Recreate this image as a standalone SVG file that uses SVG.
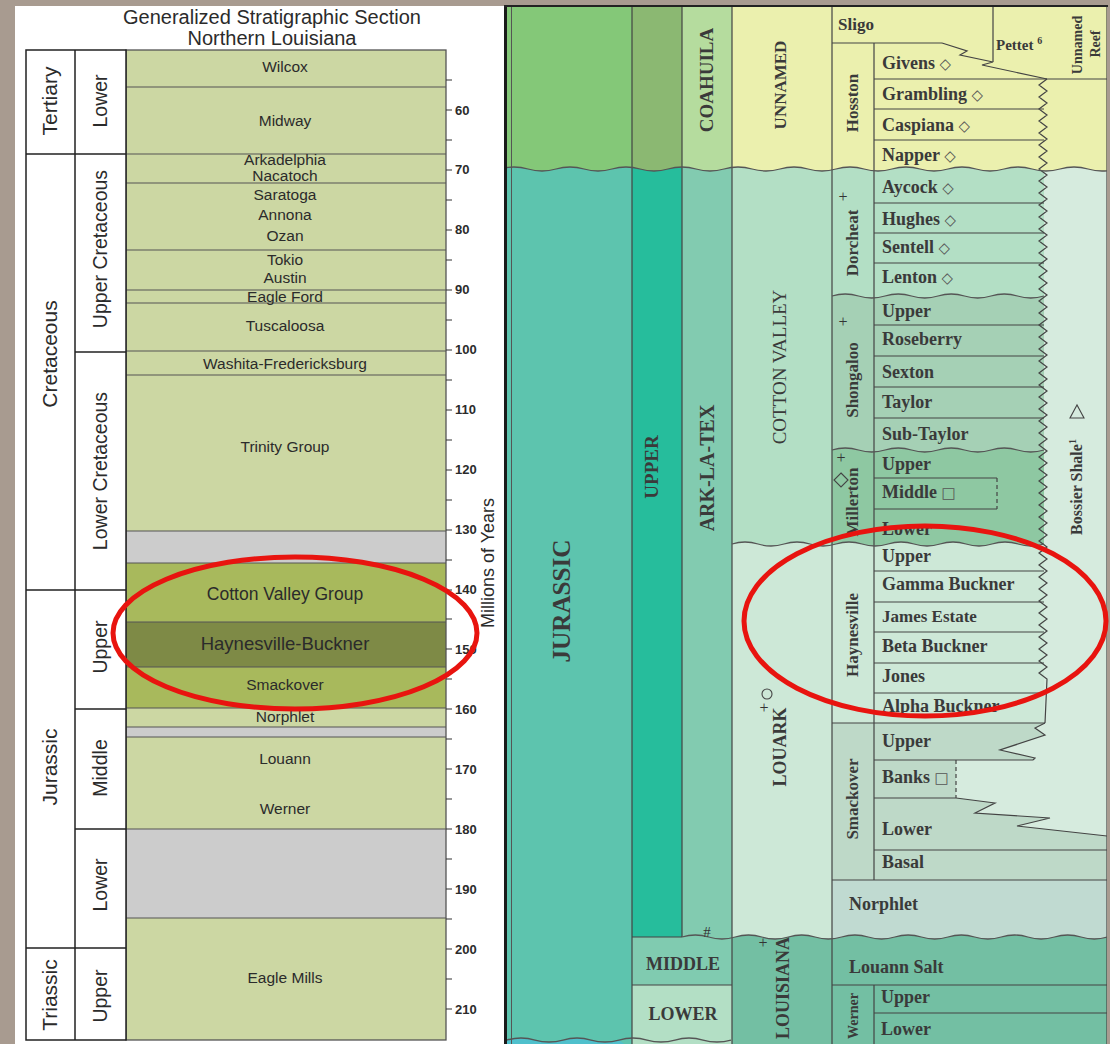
<svg xmlns="http://www.w3.org/2000/svg" width="1110" height="1044" viewBox="0 0 1110 1044">
<defs>
<style>
.ln{stroke:#444;stroke-width:1.2;fill:none}
.lk{stroke:#222;stroke-width:1.5;fill:none}
.wv{stroke:#555;stroke-width:1.3;fill:none}
.ds{stroke:#444;stroke-width:1.2;fill:none;stroke-dasharray:4 3}
.ss{font-family:"Liberation Sans",Arial,sans-serif;fill:#2b2b2b}
.fm{font-size:15.5px;text-anchor:middle}
.tk{font-size:13px;font-weight:bold}
.sf{font-family:"Liberation Serif","Times New Roman",serif;font-weight:bold;fill:#3a3a3a}
.mb{font-size:18px}
.rt{text-anchor:middle}
.sy{font-family:"DejaVu Sans",sans-serif;font-weight:normal;font-size:15px;fill:#555}
.red{fill:none;stroke:#e8140f;stroke-width:5}
</style>
<clipPath id="rp"><rect x="507" y="7" width="600" height="1037"/></clipPath>
<clipPath id="b169"><path d="M500,169q14,-4 28,0t28,0t28,0t28,0t28,0t28,0t28,0t28,0t28,0t28,0t28,0t28,0t28,0t28,0t28,0t28,0t28,0t28,0t28,0t28,0t28,0t28,0t28,0L1150,1050L500,1050Z"/></clipPath>
<clipPath id="b937"><path d="M682,937q13.3,-4 26.6,0t26.6,0t26.6,0t26.6,0t26.6,0t26.6,0t26.6,0t26.6,0t26.6,0t26.6,0t26.6,0t26.6,0t26.6,0t26.6,0t26.6,0t26.6,0L1112,1050L682,1050Z"/></clipPath>
</defs>

<rect x="0" y="0" width="1110" height="1044" fill="#a89b90"/>

<g id="left-panel">
<rect x="15" y="6" width="490" height="1038" fill="#ffffff"/>
<text class="ss" font-size="20" text-anchor="middle" x="272" y="24">Generalized Stratigraphic Section</text>
<text class="ss" font-size="20" text-anchor="middle" x="272" y="45">Northern Louisiana</text>

<g id="formations">
<rect x="126" y="50" width="320" height="990" fill="#ccd7a3"/>
<rect x="126" y="531" width="320" height="32" fill="#cccccc"/>
<rect x="126" y="563" width="320" height="59" fill="#a8b95c"/>
<rect x="126" y="622" width="320" height="45" fill="#7e8a46"/>
<rect x="126" y="667" width="320" height="41" fill="#a8b95c"/>
<rect x="126" y="727" width="320" height="10" fill="#cccccc"/>
<rect x="126" y="829" width="320" height="89" fill="#cccccc"/>
<path stroke="#555" stroke-width="1.2" fill="none" d="M126,87H446M126,154H446M126,183H446M126,250H446M126,290H446M126,303H446M126,351H446M126,375H446M126,531H446M126,563H446M126,622H446M126,667H446M126,708H446M126,727H446M126,737H446M126,829H446M126,918H446"/>
<rect x="126" y="50" width="320" height="990" fill="none" stroke="#555" stroke-width="1.3"/>
<text class="ss fm" x="285" y="72">Wilcox</text>
<text class="ss fm" x="285" y="126">Midway</text>
<text class="ss fm" x="285" y="165">Arkadelphia</text>
<text class="ss fm" x="285" y="181">Nacatoch</text>
<text class="ss fm" x="285" y="200">Saratoga</text>
<text class="ss fm" x="285" y="220">Annona</text>
<text class="ss fm" x="285" y="241">Ozan</text>
<text class="ss fm" x="285" y="265">Tokio</text>
<text class="ss fm" x="285" y="283">Austin</text>
<text class="ss fm" x="285" y="302">Eagle Ford</text>
<text class="ss fm" x="285" y="331">Tuscaloosa</text>
<text class="ss fm" x="285" y="369">Washita-Fredericksburg</text>
<text class="ss fm" x="285" y="452">Trinity Group</text>
<text class="ss" font-size="17.5" text-anchor="middle" x="285" y="600">Cotton Valley Group</text>
<text class="ss" font-size="18.5" text-anchor="middle" x="285" y="650">Haynesville-Buckner</text>
<text class="ss fm" x="285" y="690">Smackover</text>
<text class="ss fm" x="285" y="722">Norphlet</text>
<text class="ss fm" x="285" y="764">Louann</text>
<text class="ss fm" x="285" y="814">Werner</text>
<text class="ss fm" x="285" y="983">Eagle Mills</text>
</g>

<g id="eras">
<rect x="26" y="50" width="100" height="990" fill="#ffffff"/>
<path class="lk" d="M26,50H126V1040H26ZM75,50V1040M26,154H126M26,590H126M26,948H126M75,352H126M75,709H126M75,829H126"/>
<g class="ss" font-size="21" text-anchor="middle">
<text transform="translate(50,101) rotate(-90)" dy="0.35em">Tertiary</text>
<text transform="translate(50,354) rotate(-90)" dy="0.35em">Cretaceous</text>
<text transform="translate(50,767) rotate(-90)" dy="0.35em">Jurassic</text>
<text transform="translate(50,995) rotate(-90)" dy="0.35em">Triassic</text>
</g>
<g class="ss" font-size="19.5" text-anchor="middle">
<text transform="translate(100,101) rotate(-90)" dy="0.35em">Lower</text>
<text transform="translate(100,249) rotate(-90)" dy="0.35em">Upper Cretaceous</text>
<text transform="translate(100,471) rotate(-90)" dy="0.35em">Lower Cretaceous</text>
<text transform="translate(100,647) rotate(-90)" dy="0.35em">Upper</text>
<text transform="translate(100,768) rotate(-90)" dy="0.35em">Middle</text>
<text transform="translate(100,885) rotate(-90)" dy="0.35em">Lower</text>
<text transform="translate(100,996) rotate(-90)" dy="0.35em">Upper</text>
</g>
</g>

<g id="age-scale">
<path stroke="#333" stroke-width="1.2" d="M446,80h6M446,110h6M446,140h6M446,170h6M446,200h6M446,230h6M446,260h6M446,290h6M446,320h6M446,350h6M446,380h6M446,410h6M446,440h6M446,470h6M446,500h6M446,530h6M446,560h6M446,590h6M446,619h6M446,649h6M446,679h6M446,709h6M446,739h6M446,769h6M446,799h6M446,829h6M446,859h6M446,889h6M446,919h6M446,949h6M446,979h6M446,1009h6"/>
<g class="ss tk">
<text x="455" y="114.5">60</text>
<text x="455" y="174.4">70</text>
<text x="455" y="234.4">80</text>
<text x="455" y="294.3">90</text>
<text x="455" y="354.2">100</text>
<text x="455" y="414.2">110</text>
<text x="455" y="474.1">120</text>
<text x="455" y="534">130</text>
<text x="455" y="594">140</text>
<text x="455" y="653.9">150</text>
<text x="455" y="713.8">160</text>
<text x="455" y="773.8">170</text>
<text x="455" y="833.7">180</text>
<text x="455" y="893.6">190</text>
<text x="455" y="953.6">200</text>
<text x="455" y="1013.5">210</text>
</g>
<text class="ss" font-size="18" text-anchor="middle" transform="translate(488,563) rotate(-90)" dy="0.35em">Millions of Years</text>
</g>
</g>

<g id="right-panel">
<g clip-path="url(#rp)">
<rect x="507" y="7" width="125" height="175" fill="#84c878"/>
<rect x="632" y="7" width="50" height="175" fill="#8bb872"/>
<rect x="682" y="7" width="50" height="175" fill="#b5dc9e"/>
<rect x="732" y="7" width="375" height="175" fill="#ebf0ae"/>
<g clip-path="url(#b169)">
<rect x="507" y="160" width="125" height="884" fill="#5dc4ae"/>
<rect x="632" y="160" width="50" height="777" fill="#26bd9c"/>
<rect x="682" y="160" width="50" height="790" fill="#82cbb0"/>
<rect x="940" y="160" width="170" height="690" fill="#d6ebde"/>
<rect x="732" y="160" width="312" height="400" fill="#b3dfc5"/>
</g>
<path fill="#a5d0b5" d="M832,296q13.25,-4 26.5,0t26.5,0t26.5,0t26.5,0t26.5,0t26.5,0t26.5,0t26.5,0L1044,460L832,460Z"/>
<path fill="#8ec8a2" d="M832,450q13.25,-4 26.5,0t26.5,0t26.5,0t26.5,0t26.5,0t26.5,0t26.5,0t26.5,0L1044,560L832,560Z"/>
<path fill="#cde8d7" d="M732,544q13,-4 26,0t26,0t26,0t26,0t26,0t26,0t26,0t26,0t26,0t26,0t26,0t26,0L1044,723L832,723L832,945L732,945Z"/>
<path fill="#bed9c8" d="M832,723L1045,723L1035,728L1045,735L1000,750L1035,758L1033,760L956,760L956,798L995,803L975,813L1050,818L1017,826L1107,836L1107,880L832,880Z"/>
<rect x="832" y="880" width="275" height="65" fill="#c0dad1"/>
<g clip-path="url(#b937)">
<rect x="682" y="925" width="50" height="60" fill="#80cbb0"/>
<rect x="732" y="925" width="375" height="119" fill="#73bfa3"/>
</g>
<rect x="632" y="937" width="50" height="48" fill="#80cbb0"/>
<rect x="632" y="985" width="100" height="59" fill="#b3dfc5"/>
<path fill="#4fc0cc" d="M507,1040q14,-4 28,0t28,0t28,0t28,0L632,1050L507,1050Z"/>

<g id="connectors">
<path class="ln" d="M632,7V1044M682,7V937M732,7V1044M832,7V1044M874,43V880M874,985V1044M993,7V62M1107,7V1044"/>
<path stroke="#555" stroke-width="1" d="M511.5,7V1044"/>
<path class="ln" d="M832,43H942M874,79H1107M874,109H1044M874,140H1044M874,203H1044M874,233H1044M874,263H1044M874,325H1044M874,356H1044M874,387H1044M874,418H1044M874,478H997M874,509H997M874,571H1044M874,602H1044M874,632H1044M874,663H1044M874,693H1044M832,723H1045M874,760H1033M874,798H956M874,850H1107M832,880H1107M632,937H682M632,985H732M832,985H1107M874,1013H1107"/>
<path class="ln" d="M942,43L967,51L960,55L993,62L982,65L1047,79"/>
<path class="ln" d="M1047,79l-8,6 8,6 -8,6 8,6 -8,6 8,6 -8,6 8,6 -8,6 8,6 -8,6 8,6 -8,6 8,6 -8,6 8,6 -8,6 8,6 -8,6 8,6 -8,6 8,6 -8,6 8,6 -8,6 8,6 -8,6 8,6 -8,6 8,6 -8,6 8,6 -8,6 8,6 -8,6 8,6 -8,6 8,6 -8,6 8,6 -8,6 8,6 -8,6 8,6 -8,6 8,6 -8,6 8,6 -8,6 8,6 -8,6 8,6 -8,6 8,6 -8,6 8,6 -8,6 8,6 -8,6 8,6 -8,6 8,6 -8,6 8,6 -8,6 8,6 -8,6 8,6 -8,6 8,6 -8,6 8,6 -8,6 8,6 -8,6 8,6 -8,6 8,6 -8,6 8,6 -8,6 8,6 -8,6 8,6 -8,6 8,6 -8,6 8,6 -8,6 8,6 -8,6 8,6 -8,6 8,6 -8,6 8,6 -8,6 8,6 -8,6 8,6L1045,723"/>
<path class="ln" d="M1045,723L1035,728L1045,735L1000,750L1035,758L1033,760M956,798L995,803L975,813L1050,818L1017,826L1107,836"/>
<path class="ds" d="M997,478V509M956,760V798"/>
<path class="wv" d="M500,169q14,-4 28,0t28,0t28,0t28,0t28,0t28,0t28,0t28,0t28,0t28,0t28,0t28,0t28,0t28,0t28,0t28,0t28,0t28,0t28,0t28,0t28,0t28,0t28,0"/>
<path class="wv" d="M832,296q13.25,-4 26.5,0t26.5,0t26.5,0t26.5,0t26.5,0t26.5,0t26.5,0t26.5,0"/>
<path class="wv" d="M832,450q13.25,-4 26.5,0t26.5,0t26.5,0t26.5,0t26.5,0t26.5,0t26.5,0t26.5,0"/>
<path class="wv" d="M732,544q13,-4 26,0t26,0t26,0t26,0t26,0t26,0t26,0t26,0t26,0t26,0t26,0t26,0"/>
<path class="wv" d="M682,937q13.3,-4 26.6,0t26.6,0t26.6,0t26.6,0t26.6,0t26.6,0t26.6,0t26.6,0t26.6,0t26.6,0t26.6,0t26.6,0t26.6,0t26.6,0t26.6,0t26.6,0"/>
<path class="wv" d="M507,1040q14,-4 28,0t28,0t28,0t28,0t28,0t28,0t28,0t28,0"/>
</g>
</g>
<path stroke="#1a1a1a" stroke-width="3" d="M505.5,5V1044"/>
<path stroke="#222" stroke-width="2" d="M504,6H1108"/>

<g id="column-labels" class="sf rt">
<text font-size="25" textLength="123" lengthAdjust="spacingAndGlyphs" transform="translate(562,601) rotate(-90)" dy="0.33em">JURASSIC</text>
<text font-size="19" transform="translate(652,467) rotate(-90)" dy="0.33em">UPPER</text>
<text font-size="19" transform="translate(707,80) rotate(-90)" dy="0.33em">COAHUILA</text>
<text font-size="20" transform="translate(707,468) rotate(-90)" dy="0.33em">ARK-LA-TEX</text>
<text font-size="17" transform="translate(780,85) rotate(-90)" dy="0.33em">UNNAMED</text>
<text font-size="19" font-weight="normal" transform="translate(780,367) rotate(-90)" dy="0.33em">COTTON VALLEY</text>
<text font-size="18" transform="translate(780,747) rotate(-90)" dy="0.33em">LOUARK</text>
<text font-size="18" transform="translate(783,988) rotate(-90)" dy="0.33em">LOUISIANA</text>
<text font-size="18" x="683" y="970">MIDDLE</text>
<text font-size="18" x="683" y="1020">LOWER</text>
</g>

<g id="formation-labels" class="sf rt" font-size="17">
<text transform="translate(852,103) rotate(-90)" dy="0.33em">Hosston</text>
<text transform="translate(852,243) rotate(-90)" dy="0.33em">Dorcheat</text>
<text transform="translate(852,380) rotate(-90)" dy="0.33em">Shongaloo</text>
<text transform="translate(852,502) rotate(-90)" dy="0.33em">Millerton</text>
<text transform="translate(852,635) rotate(-90)" dy="0.33em">Haynesville</text>
<text transform="translate(852,799) rotate(-90)" dy="0.33em">Smackover</text>
<text font-size="14" transform="translate(853,1016) rotate(-90)" dy="0.33em">Werner</text>
<text font-size="16" transform="translate(1077,487) rotate(-90)" dy="0.33em">Bossier Shale<tspan font-size="10" dy="-6">1</tspan></text>
<text font-size="14" transform="translate(1077,45) rotate(-90)" dy="0.33em">Unnamed</text>
<text font-size="14" transform="translate(1095,44) rotate(-90)" dy="0.33em">Reef</text>
</g>

<g id="symbols" font-family="Liberation Serif, serif" fill="#333" text-anchor="middle" font-size="16">
<text x="843" y="202">+</text>
<text x="843" y="327">+</text>
<text x="841" y="463">+</text>
<text x="764" y="713">+</text>
<text x="763" y="948">+</text>
<text x="707" y="937" font-size="15">#</text>
<circle cx="767" cy="694" r="5" fill="none" stroke="#444" stroke-width="1.1"/>
<polygon points="841,473 848,480 841,487 834,480" fill="none" stroke="#444" stroke-width="1.1"/>
<polygon points="1070,418 1084,418 1077,405" fill="none" stroke="#444" stroke-width="1.1"/>
</g>

<g id="member-labels" class="sf mb">
<text x="838" y="30" font-size="17">Sligo</text>
<text x="996" y="50" font-size="15">Pettet <tspan font-size="10" dy="-6">6</tspan></text>
<text x="882" y="69">Givens <tspan class="sy">◇</tspan></text>
<text x="882" y="100">Grambling <tspan class="sy">◇</tspan></text>
<text x="882" y="131">Caspiana <tspan class="sy">◇</tspan></text>
<text x="882" y="161">Napper <tspan class="sy">◇</tspan></text>
<text x="882" y="193">Aycock <tspan class="sy">◇</tspan></text>
<text x="882" y="225">Hughes <tspan class="sy">◇</tspan></text>
<text x="882" y="253">Sentell <tspan class="sy">◇</tspan></text>
<text x="882" y="283">Lenton <tspan class="sy">◇</tspan></text>
<text x="882" y="317">Upper</text>
<text x="882" y="345">Roseberry</text>
<text x="882" y="378">Sexton</text>
<text x="882" y="408">Taylor</text>
<text x="882" y="440">Sub-Taylor</text>
<text x="882" y="470">Upper</text>
<text x="882" y="498">Middle <tspan class="sy">□</tspan></text>
<text x="882" y="535">Lower</text>
<text x="882" y="562">Upper</text>
<text x="882" y="590">Gamma Buckner</text>
<text x="882" y="622" font-size="17">James Estate</text>
<text x="882" y="652">Beta Buckner</text>
<text x="882" y="682">Jones</text>
<text x="882" y="712">Alpha Buckner</text>
<text x="882" y="747">Upper</text>
<text x="882" y="783">Banks <tspan class="sy">□</tspan></text>
<text x="882" y="835">Lower</text>
<text x="882" y="868">Basal</text>
<text x="849" y="910">Norphlet</text>
<text x="849" y="973">Louann Salt</text>
<text x="881" y="1003">Upper</text>
<text x="881" y="1035">Lower</text>
</g>
</g>

<g id="highlights">
<ellipse class="red" cx="295" cy="633" rx="182" ry="76"/>
<ellipse class="red" cx="925" cy="621" rx="181" ry="95"/>
</g>
</svg>
